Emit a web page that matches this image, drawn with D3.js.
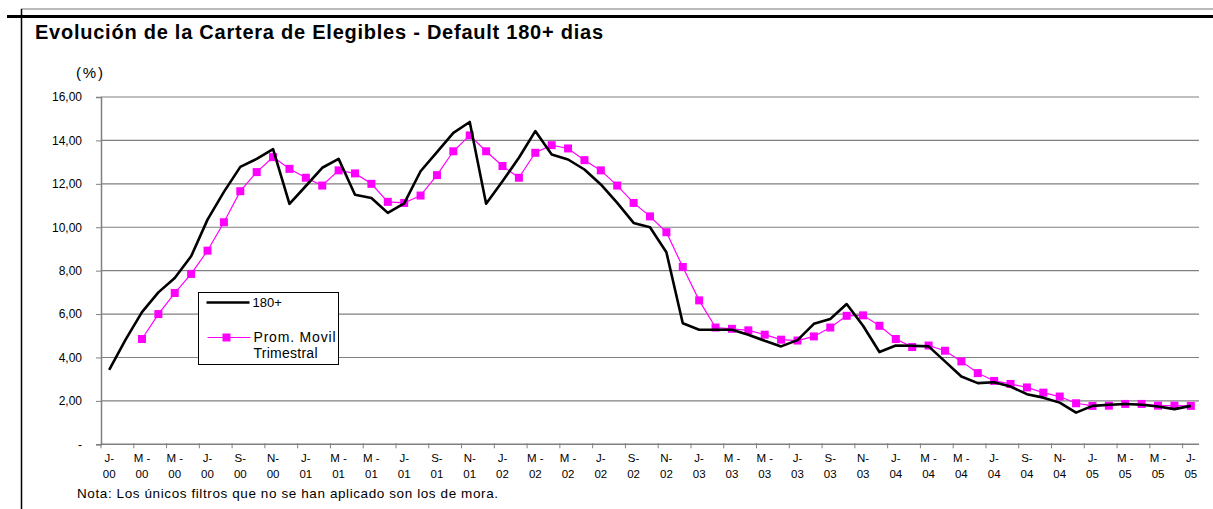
<!DOCTYPE html>
<html>
<head>
<meta charset="utf-8">
<script src="https://cdn.jsdelivr.net/npm/d3@7"></script>
<style>
  body { margin: 0; background: #fff; }
  svg text { font-family: "Liberation Sans", Arial, sans-serif; }
</style>
</head>
<body>
<div id="chart"></div>
<script>
// Monthly categories, Jan 2000 .. Jul 2005
const categories = d3.timeMonth.range(new Date(2000, 0, 1), new Date(2005, 7, 1))
    .map(d => d3.timeFormat("%Y-%m")(d));

// One label every two months
const tickLabels = [
    "J-|00", "M -|00", "M -|00", "J-|00", "S-|00", "N-|00",
    "J-|01", "M -|01", "M -|01", "J-|01", "S-|01", "N-|01",
    "J-|02", "M -|02", "M -|02", "J-|02", "S-|02", "N-|02",
    "J-|03", "M -|03", "M -|03", "J-|03", "S-|03", "N-|03",
    "J-|04", "M -|04", "M -|04", "J-|04", "S-|04", "N-|04",
    "J-|05", "M -|05", "M -|05", "J-|05"
];

// 180+ default rate (%)
const default180 = [
    3.43, 4.82, 6.09, 7.00, 7.66, 8.66, 10.35, 11.63, 12.78, 13.15, 13.60, 11.08,
    11.90, 12.74, 13.15, 11.50, 11.35, 10.66, 11.10, 12.58, 13.46, 14.35, 14.85, 11.08,
    12.12, 13.20, 14.43, 13.35, 13.12, 12.66, 11.97, 11.12, 10.20, 10.00, 8.85, 5.58,
    5.28, 5.28, 5.28, 5.05, 4.77, 4.51, 4.80, 5.55, 5.77, 6.46, 5.46, 4.25,
    4.55, 4.54, 4.51, 3.82, 3.12, 2.82, 2.86, 2.66, 2.31, 2.15, 1.92, 1.46,
    1.77, 1.82, 1.86, 1.82, 1.74, 1.62, 1.77
];

// Prom. Movil Trimestral (starts on the third month)
const movingAvg = [
    null, null, 4.85, 6.00, 6.97, 7.85, 8.92, 10.23, 11.66, 12.54, 13.23, 12.69,
    12.28, 11.92, 12.62, 12.48, 12.00, 11.17, 11.12, 11.46, 12.40, 13.50, 14.23, 13.50,
    12.82, 12.28, 13.43, 13.78, 13.63, 13.09, 12.62, 11.92, 11.12, 10.50, 9.77, 8.17,
    6.63, 5.38, 5.32, 5.25, 5.05, 4.82, 4.78, 4.97, 5.38, 5.92, 5.94, 5.46,
    4.85, 4.48, 4.55, 4.31, 3.82, 3.28, 2.92, 2.78, 2.62, 2.38, 2.20, 1.89,
    1.77, 1.78, 1.86, 1.86, 1.78, 1.78, 1.77
];

const yTicks = [0, 2, 4, 6, 8, 10, 12, 14, 16];

const Chart = {
    svg: null,
    x: null,
    y: null,

    init() {
        const width = 1213, height = 509;
        this.svg = d3.select("#chart").append("svg")
            .attr("width", width)
            .attr("height", height);

        this.x = d3.scaleBand().domain(categories).range([101, 1199]).padding(0);
        this.y = d3.scaleLinear().domain([0, 16]).range([444.3, 97]);

        this.drawFrame();
        this.drawAxes();
        this.drawSeries();
        this.drawLegend();
    },

    /**
     * Page frame lines, title and footnote.
     */
    drawFrame() {
        const svg = this.svg;
        svg.append("line").attr("x1", 21).attr("x2", 1213).attr("y1", 9).attr("y2", 9)
            .attr("stroke", "#777").attr("stroke-width", 1);
        svg.append("line").attr("x1", 7).attr("x2", 1213).attr("y1", 16.5).attr("y2", 16.5)
            .attr("stroke", "#000").attr("stroke-width", 3);
        svg.append("line").attr("x1", 21.5).attr("x2", 21.5).attr("y1", 9).attr("y2", 509)
            .attr("stroke", "#000").attr("stroke-width", 1.5);

        svg.append("text")
            .attr("x", 35).attr("y", 39)
            .attr("textLength", 568).attr("lengthAdjust", "spacing")
            .style("font-size", "20px").style("font-weight", "bold")
            .text("Evolución de la Cartera de Elegibles -  Default 180+ dias");

        svg.append("text")
            .attr("x", 76).attr("y", 78)
            .attr("textLength", 27).attr("lengthAdjust", "spacing")
            .style("font-size", "15px")
            .text("(%)");

        svg.append("text")
            .attr("x", 77).attr("y", 498)
            .attr("textLength", 421).attr("lengthAdjust", "spacing")
            .style("font-size", "13.5px")
            .text("Nota: Los únicos filtros que no se han aplicado son los de mora.");
    },

    drawAxes() {
        const svg = this.svg, x = this.x, y = this.y;
        const left = x.range()[0], right = x.range()[1];

        // gridlines
        svg.append("g").selectAll("line")
            .data(yTicks.filter(d => d > 0))
            .enter().append("line")
            .attr("x1", left).attr("x2", right)
            .attr("y1", d => y(d)).attr("y2", d => y(d))
            .attr("stroke", "#808080").attr("stroke-width", 1.2);

        // y axis
        const yAxis = d3.axisLeft(y)
            .tickValues(yTicks)
            .tickSize(5)
            .tickPadding(14)
            .tickFormat(d => d === 0 ? "-" : d3.format(".2f")(d).replace(".", ","));
        const gy = svg.append("g").attr("transform", `translate(${left},0)`).call(yAxis);
        gy.select(".domain").attr("stroke", "#808080").attr("stroke-width", 1.5);
        gy.selectAll(".tick line").attr("stroke", "#808080");
        gy.selectAll(".tick text").style("font-size", "12px").attr("fill", "#000")
            .attr("font-family", null);

        // x axis line + ticks every two months
        svg.append("line")
            .attr("x1", left).attr("x2", right)
            .attr("y1", y(0)).attr("y2", y(0))
            .attr("stroke", "#808080").attr("stroke-width", 1.5);

        const tickCats = categories.filter((d, i) => i % 2 === 0);
        svg.append("g").selectAll("line")
            .data(tickCats)
            .enter().append("line")
            .attr("x1", d => x(d)).attr("x2", d => x(d))
            .attr("y1", y(0) - 1).attr("y2", y(0) + 4)
            .attr("stroke", "#808080");

        const labels = svg.append("g").selectAll("text")
            .data(tickCats)
            .enter().append("text")
            .attr("x", d => x(d) + x.bandwidth() / 2)
            .attr("text-anchor", "middle")
            .style("font-size", "11.5px");
        labels.append("tspan")
            .attr("x", d => x(d) + x.bandwidth() / 2)
            .attr("y", 462)
            .text((d, i) => tickLabels[i].split("|")[0]);
        labels.append("tspan")
            .attr("x", d => x(d) + x.bandwidth() / 2)
            .attr("y", 478)
            .text((d, i) => tickLabels[i].split("|")[1]);
    },

    drawSeries() {
        const svg = this.svg, x = this.x, y = this.y;
        const cx = i => x(categories[i]) + x.bandwidth() / 2;

        const line = d3.line()
            .defined(d => d.v != null)
            .x(d => cx(d.i))
            .y(d => y(d.v));

        const blackData = default180.map((v, i) => ({ i, v }));
        const avgData = movingAvg.map((v, i) => ({ i, v })).filter(d => d.v != null);

        svg.append("path")
            .datum(avgData)
            .attr("d", line)
            .attr("fill", "none")
            .attr("stroke", "#ff00ff")
            .attr("stroke-width", 1.2);

        svg.append("g").selectAll("rect")
            .data(avgData)
            .enter().append("rect")
            .attr("x", d => cx(d.i) - 4)
            .attr("y", d => y(d.v) - 4)
            .attr("width", 8).attr("height", 8)
            .attr("fill", "#ff00ff");

        svg.append("path")
            .datum(blackData)
            .attr("d", line)
            .attr("fill", "none")
            .attr("stroke", "#000")
            .attr("stroke-width", 2.6)
            .attr("stroke-linejoin", "round");
    },

    drawLegend() {
        const g = this.svg.append("g").attr("transform", "translate(198.5,292.5)");
        g.append("rect")
            .attr("width", 140).attr("height", 72)
            .attr("fill", "#fff").attr("stroke", "#000").attr("stroke-width", 1);

        g.append("line").attr("x1", 8).attr("x2", 51).attr("y1", 10).attr("y2", 10)
            .attr("stroke", "#000").attr("stroke-width", 2.6);
        g.append("text").attr("x", 54).attr("y", 14)
            .style("font-size", "13px").text("180+");

        g.append("line").attr("x1", 9).attr("x2", 52).attr("y1", 45).attr("y2", 45)
            .attr("stroke", "#ff00ff").attr("stroke-width", 1.2);
        g.append("rect").attr("x", 24).attr("y", 41).attr("width", 8).attr("height", 8)
            .attr("fill", "#ff00ff");
        g.append("text").attr("x", 55).attr("y", 49)
            .attr("textLength", 82).attr("lengthAdjust", "spacing")
            .style("font-size", "14px").text("Prom. Movil");
        g.append("text").attr("x", 55).attr("y", 65)
            .attr("textLength", 64).attr("lengthAdjust", "spacing")
            .style("font-size", "14px").text("Trimestral");
    }
};

Chart.init();
</script>
</body>
</html>
